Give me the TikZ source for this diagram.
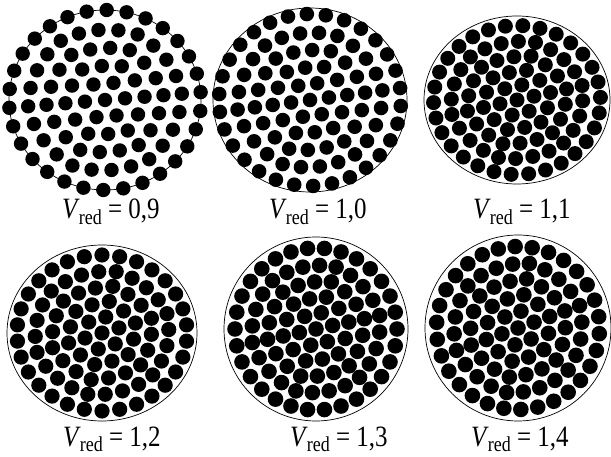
\documentclass[tikz,border=0pt]{standalone}
\usepackage{fontspec}
\usepackage{graphicx}
\setmainfont{Liberation Serif}
\newcommand{\vredlabel}[1]{\scalebox{1}[1.18]{\fontsize{25}{27}\selectfont\textit{V}\kern-1pt\raisebox{-0.4ex}{\fontsize{18}{18}\selectfont red} = #1}}
\newcommand{\fibdisk}[7]{%
  \draw[rimline] (#1,#2) ellipse [x radius=#3, y radius=#4];
  \pgfmathsetmacro\fsx{(#3-#5)/4.7}%
  \pgfmathsetmacro\fsy{(#4-#5)/4.7}%
  \foreach \ii in {-5,...,5}{\foreach \jj in {-5,...,5}{%
    \pgfmathtruncatemacro\fh{max(abs(\ii),abs(\jj),abs(\ii+\jj))}%
    \ifnum\fh<6
      \pgfmathsetmacro\fpx{\ii+\jj/2}%
      \pgfmathsetmacro\fpy{\jj*0.8660}%
      \ifnum\fh>0
        \pgfmathsetmacro\fphi{atan2(\fpy,\fpx)}%
        \pgfmathsetmacro\fphi{\fphi+360*(\fphi<0)}%
        \pgfmathsetmacro\fm{floor((\fphi+0.001)/60)}%
        \pgfmathsetmacro\fpsi{60*\fm+30+51.96*tan(\fphi-60*\fm-30)}%
        \pgfmathsetmacro\fw{\fh/5}%
        \pgfmathsetmacro\frad{\fh<5 ? \fh*0.93 : 4.7}%
        \pgfmathsetmacro\fX{(1-\fw)*\fpx+\fw*\frad*cos(\fpsi)}%
        \pgfmathsetmacro\fY{(1-\fw)*\fpy+\fw*\frad*sin(\fpsi)}%
      \else
        \def\fX{0}\def\fY{0}%
      \fi
      \pgfmathsetmacro\fqx{#1+\fsx*(\fX*cos(#7)-\fY*sin(#7))}%
      \pgfmathsetmacro\fqy{#2+\fsy*(\fX*sin(#7)+\fY*cos(#7))}%
      \fill[fiber] (\fqx,\fqy) circle[radius=#6];
    \fi
  }}%
}
\begin{document}
\begin{tikzpicture}[x=1pt,y=-1pt,
  rimline/.style={draw=black, line width=0.7pt},
  fiber/.style={fill=black},
  lbl/.style={inner sep=0pt, anchor=base}]
\useasboundingbox (0,0) rectangle (611,457);
\fibdisk{105}{100}{96}{90}{0}{7.2}{-5}
\fibdisk{310}{100}{97}{92}{6}{7.3}{-8}
\fibdisk{517}{100}{93}{84}{9.5}{7.5}{-14}
\fibdisk{102}{333}{95}{88}{10}{7.6}{-18}
\fibdisk{316}{329}{92}{92}{11}{7.8}{-12}
\fibdisk{518}{328}{93}{93}{11.5}{7.8}{-20}
\node[lbl] (l1) at (111,219) {\vredlabel{0,9}};
\node[lbl] (l2) at (318,219) {\vredlabel{1,0}};
\node[lbl] (l3) at (522,219) {\vredlabel{1,1}};
\node[lbl] (l4) at (112,446) {\vredlabel{1,2}};
\node[lbl] (l5) at (339,446) {\vredlabel{1,3}};
\node[lbl] (l6) at (520,446) {\vredlabel{1,4}};
\end{tikzpicture}
\end{document}
